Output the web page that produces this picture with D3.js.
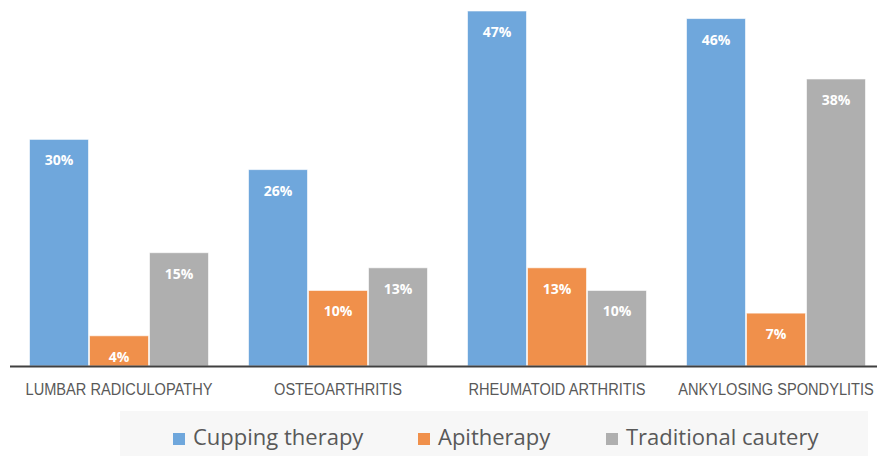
<!DOCTYPE html>
<html>
<head>
<meta charset="utf-8">
<script src="https://cdn.jsdelivr.net/npm/d3@7"></script>
<style>
  html, body { margin: 0; padding: 0; background: #fff; }
  svg { display: block; }
</style>
</head>
<body>
<svg id="chart" width="877" height="456"></svg>
<script>
// Conditions and treatment shares (%)
const categories = ["LUMBAR RADICULOPATHY", "OSTEOARTHRITIS", "RHEUMATOID ARTHRITIS", "ANKYLOSING SPONDYLITIS"];
const seriesNames = ["Cupping therapy", "Apitherapy", "Traditional cautery"];
const cupping = [30, 26, 47, 46];
const apitherapy = [4, 10, 13, 7];
const cautery = [15, 13, 10, 38];
const seriesValues = [cupping, apitherapy, cautery];
const colors = ["#6fa7dc", "#f0904b", "#afafaf"];

const svg = d3.select("#chart");
const baseY = 366;

const x0 = d3.scaleBand().domain(categories).range([9.5, 885.5]).padding(0);
const x1 = d3.scaleBand().domain(seriesNames).range([19.5, 199.5]).padding(0);
const y = d3.scaleLinear().domain([0, 47]).range([baseY, 11]);

const rows = categories.map((c, i) => ({
  category: c,
  values: seriesNames.map((s, j) => ({ series: s, value: seriesValues[j][i], color: colors[j] }))
}));

const groups = svg.append("g").selectAll("g")
  .data(rows).join("g")
  .attr("transform", d => `translate(${x0(d.category)},0)`);

groups.selectAll("rect")
  .data(d => d.values).join("rect")
  .attr("x", d => x1(d.series) + 0.5)
  .attr("width", x1.bandwidth() - 1)
  .attr("y", d => y(d.value))
  .attr("height", d => y(0) - y(d.value))
  .attr("fill", d => d.color)
  .attr("stroke", "#ffffff")
  .attr("stroke-opacity", 0.6)
  .attr("stroke-width", 1);

groups.selectAll("text.val")
  .data(d => d.values).join("text")
  .attr("class", "val")
  .attr("x", d => x1(d.series) + x1.bandwidth() / 2)
  .attr("y", d => y(d.value) + 26)
  .attr("text-anchor", "middle")
  .attr("font-family", "'Open Sans', sans-serif")
  .attr("font-size", 14)
  .attr("font-weight", "bold")
  .attr("fill", "#ffffff")
  .text(d => d.value + "%");

// Category axis (labels set in a condensed face)
const xAxis = d3.axisBottom(x0).tickSize(0).tickPadding(0);
const axisG = svg.append("g").attr("transform", `translate(0,${baseY})`).call(xAxis);
axisG.select(".domain").remove();
axisG.selectAll("text")
  .attr("dy", null)
  .attr("y", 0)
  .attr("transform", "translate(0,28.5) scale(0.86,1)")
  .attr("font-family", "'Liberation Sans', sans-serif")
  .attr("font-size", 17)
  .attr("fill", "#595959");
svg.append("line")
  .attr("x1", 10).attr("x2", 877)
  .attr("y1", baseY + 0.5).attr("y2", baseY + 0.5)
  .attr("stroke", "#404040").attr("stroke-width", 2);

// Legend
svg.append("rect")
  .attr("x", 120).attr("y", 411).attr("width", 748).attr("height", 45)
  .attr("fill", "#f7f7f7");
const legendX = [173, 418, 606];
const leg = svg.append("g").selectAll("g")
  .data(seriesNames).join("g")
  .attr("transform", (d, i) => `translate(${legendX[i]},445)`);
leg.append("rect")
  .attr("x", 0).attr("y", -12).attr("width", 12).attr("height", 12)
  .attr("fill", (d, i) => colors[i]);
leg.append("text")
  .attr("x", 20).attr("y", 0)
  .attr("font-family", "'Open Sans', sans-serif")
  .attr("font-size", 22)
  .attr("fill", "#595959")
  .text(d => d);
</script>
</body>
</html>
